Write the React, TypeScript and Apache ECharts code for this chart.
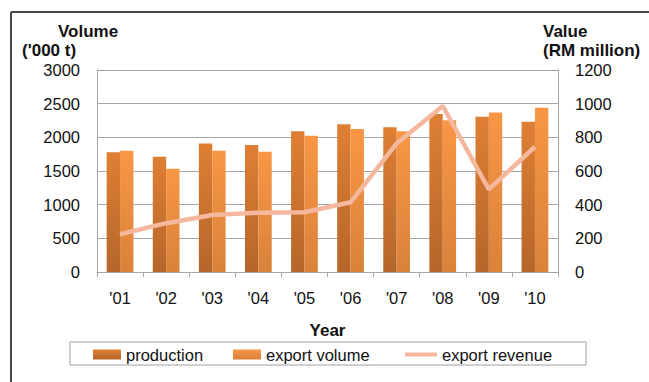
import React, { useEffect, useRef } from "react";
import * as echarts from "echarts";

const years = ["'01", "'02", "'03", "'04", "'05", "'06", "'07", "'08", "'09", "'10"];
const production = [1780, 1710, 1910, 1885, 2090, 2195, 2150, 2345, 2305, 2230];
const exportVolume = [1800, 1535, 1800, 1785, 2025, 2125, 2090, 2255, 2370, 2440];
const exportRevenue = [224, 290, 339, 352, 355, 414, 764, 986, 491, 744];
const leftTicks = { min: 0, max: 3000, interval: 500 };
const rightTicks = { min: 0, max: 1200, interval: 200 };

const FONT = "'Liberation Sans', Arial, sans-serif";

export default function App() {
  const ref = useRef<HTMLDivElement>(null);
  useEffect(() => {
    if (!ref.current) return;
    const chart = echarts.init(ref.current, null, { renderer: "svg" });
    const prodColor = new echarts.graphic.LinearGradient(0, 0, 0, 1, [
      { offset: 0, color: "#DF7F34" },
      { offset: 1, color: "#B5662A" },
    ]);
    const expColor = new echarts.graphic.LinearGradient(0, 0, 0, 1, [
      { offset: 0, color: "#F89645" },
      { offset: 1, color: "#DA823A" },
    ]);
    const axisLabel = {
      color: "#111",
      fontSize: 16.5,
      fontFamily: FONT,
      margin: 17,
      formatter: (v: number | string) => String(v),
    };
    const legendText = { color: "#111", fontSize: 16.5, fontFamily: FONT };
    chart.setOption({
      animation: false,
      grid: { left: 97, right: 91, top: 70, bottom: 110, containLabel: false },
      xAxis: {
        type: "category",
        data: years,
        boundaryGap: true,
        name: "Year",
        nameLocation: "middle",
        nameGap: 50,
        nameTextStyle: { color: "#111", fontSize: 17, fontWeight: "bold", fontFamily: FONT },
        axisLine: { lineStyle: { color: "#A6A6A6", width: 1 } },
        axisTick: { show: true, length: 5, alignWithLabel: false, lineStyle: { color: "#A6A6A6" } },
        axisLabel: { ...axisLabel, margin: 17 },
      },
      yAxis: [
        {
          type: "value",
          ...leftTicks,
          axisLine: { show: true, lineStyle: { color: "#A6A6A6" } },
          axisTick: { show: false },
          splitLine: { lineStyle: { color: "#A6A6A6", width: 1 } },
          axisLabel,
        },
        {
          type: "value",
          ...rightTicks,
          position: "right",
          axisLine: { show: true, lineStyle: { color: "#A6A6A6" } },
          axisTick: { show: false },
          splitLine: { show: false },
          axisLabel,
        },
      ],
      legend: [
        {
          data: [{ name: "production", icon: "rect" }],
          left: 93, top: 346, itemWidth: 28, itemHeight: 10, padding: 0,
          textStyle: legendText,
        },
        {
          data: [{ name: "export volume", icon: "rect" }],
          left: 233, top: 346, itemWidth: 28, itemHeight: 10, padding: 0,
          textStyle: legendText,
        },
        {
          data: [{ name: "export revenue", icon: "rect" }],
          left: 405, top: 346, itemWidth: 32, itemHeight: 4, padding: 0,
          textStyle: legendText,
        },
      ],
      graphic: [
        { type: "line", shape: { x1: 11, y1: 12, x2: 649, y2: 12 }, style: { stroke: "#4a4a4a", lineWidth: 2 }, z: 0 },
        { type: "line", shape: { x1: 11, y1: 12, x2: 11, y2: 382 }, style: { stroke: "#4a4a4a", lineWidth: 2 }, z: 0 },
        { type: "rect", shape: { x: 70, y: 342, width: 516, height: 23 }, style: { fill: "#fff", stroke: "#A0A0A0", lineWidth: 1 }, z: -1 },
        { type: "text", x: 58, y: 31, style: { text: "Volume", font: `bold 17px ${FONT}`, fill: "#111", textVerticalAlign: "middle" } },
        { type: "text", x: 22, y: 50, style: { text: "('000 t)", font: `bold 17px ${FONT}`, fill: "#111", textVerticalAlign: "middle" } },
        { type: "text", x: 543, y: 31, style: { text: "Value", font: `bold 17px ${FONT}`, fill: "#111", textVerticalAlign: "middle" } },
        { type: "text", x: 543, y: 50, style: { text: "(RM million)", font: `bold 17px ${FONT}`, fill: "#111", textVerticalAlign: "middle" } },
      ],
      series: [
        {
          name: "production",
          type: "bar",
          data: production,
          yAxisIndex: 0,
          barGap: "0%",
          barCategoryGap: "42%",
          itemStyle: { color: prodColor },
        },
        {
          name: "export volume",
          type: "bar",
          data: exportVolume,
          yAxisIndex: 0,
          itemStyle: { color: expColor },
        },
        {
          name: "export revenue",
          type: "line",
          data: exportRevenue,
          yAxisIndex: 1,
          symbol: "none",
          showSymbol: false,
          lineStyle: { color: "#F5B89E", width: 4.5 },
          itemStyle: { color: "#F5B89E" },
          z: 5,
        },
      ],
    });
    return () => chart.dispose();
  }, []);
  return <div ref={ref} style={{ width: 649, height: 382, position: "absolute", left: 0, top: 0 }} />;
}
